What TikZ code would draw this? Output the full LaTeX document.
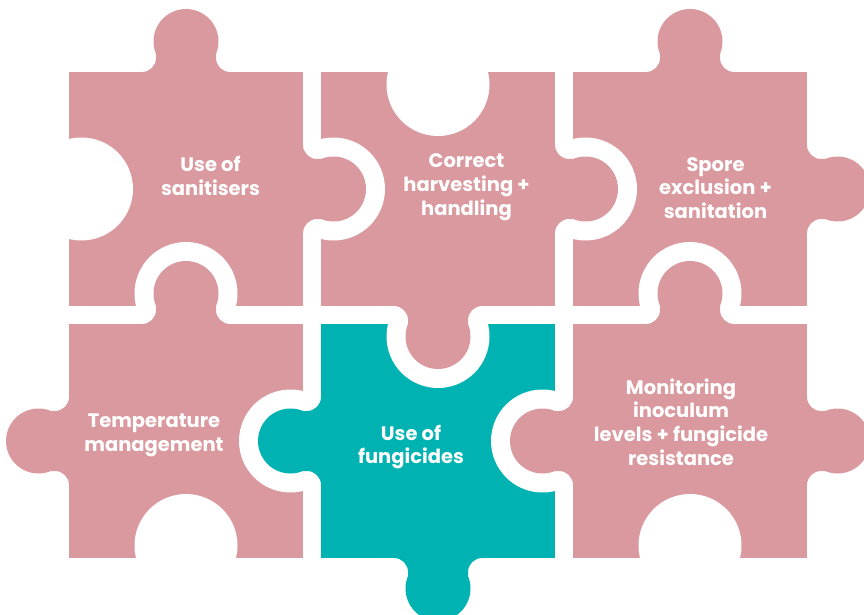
\documentclass[tikz,border=0pt]{standalone}
\usepackage{fontspec}
\setmainfont{Poppins}
\definecolor{petal}{RGB}{218,153,158}
\definecolor{lagoon}{RGB}{0,179,178}

% tab sticking out of a piece: edge midpoint, rotation (0 = down), colour
\newcommand{\pzknob}[3]{%
  \fill[#3,shift={#1},rotate=#2] (-44,-3) -- (-44,0)
    arc[start angle=270,end angle=360,radius=14] -- (-30,18)
    arc[start angle=202.6,end angle=-22.6,radius=32.5] -- (30,14)
    arc[start angle=180,end angle=270,radius=14] -- (44,-3) -- cycle;}
% socket cut into a piece
\newcommand{\pzhole}[1]{\fill[white] #1 circle[radius=51.5];}

\begin{document}
\begin{tikzpicture}[x=1pt,y=1pt,yscale=-1,
    label/.style={text=white,align=center,inner sep=0pt,
      font=\bfseries\fontsize{19.5}{23.8}\selectfont}]
  \clip (0,0) rectangle (864,615);

  % bodies with their sockets
  \begin{scope}
    \clip (69,72) rectangle (303,306);
    \fill[petal] (69,72) rectangle (303,306);
    \pzhole{(81.5,189)} \pzhole{(186,293.5)}
  \end{scope}
  \begin{scope}
    \clip (321,72) rectangle (555,306);
    \fill[petal] (321,72) rectangle (555,306);
    \pzhole{(438,84.5)} \pzhole{(333.5,189)}
  \end{scope}
  \begin{scope}
    \clip (573,72) rectangle (807,306);
    \fill[petal] (573,72) rectangle (807,306);
    \pzhole{(585.5,189)} \pzhole{(690,293.5)}
  \end{scope}
  \begin{scope}
    \clip (69,324) rectangle (303,558);
    \fill[petal] (69,324) rectangle (303,558);
    \pzhole{(290.5,441)} \pzhole{(186,545.5)}
  \end{scope}
  \begin{scope}
    \clip (321,324) rectangle (555,558);
    \fill[lagoon] (321,324) rectangle (555,558);
    \pzhole{(438,336.5)} \pzhole{(542.5,441)}
  \end{scope}
  \begin{scope}
    \clip (573,324) rectangle (807,558);
    \fill[petal] (573,324) rectangle (807,558);
    \pzhole{(690,545.5)}
  \end{scope}

  % tabs
  \pzknob{(186,72)}{180}{petal}   \pzknob{(303,189)}{-90}{petal}
  \pzknob{(555,189)}{-90}{petal}  \pzknob{(438,306)}{0}{petal}
  \pzknob{(690,72)}{180}{petal}   \pzknob{(807,189)}{-90}{petal}
  \pzknob{(186,324)}{180}{petal}  \pzknob{(69,441)}{90}{petal}
  \pzknob{(321,441)}{90}{lagoon}  \pzknob{(438,558)}{0}{lagoon}
  \pzknob{(690,324)}{180}{petal}  \pzknob{(573,441)}{90}{petal}
  \pzknob{(807,441)}{-90}{petal}

  \node[label] (sanit)   at (210.5,176) {Use of\\sanitisers};
  \node[label] (harvest) at (466.5,187) {Correct\\harvesting +\\handling};
  \node[label] (spore)   at (715.5,188) {Spore\\exclusion +\\sanitation};
  \node[label] (temp)    at (154,435)   {Temperature\\management};
  \node[label] (fungi)   at (411,447)   {Use of\\fungicides};
  \node[label] (monitor) at (681,422)   {Monitoring\\inoculum\\levels + fungicide\\resistance};
\end{tikzpicture}
\end{document}
